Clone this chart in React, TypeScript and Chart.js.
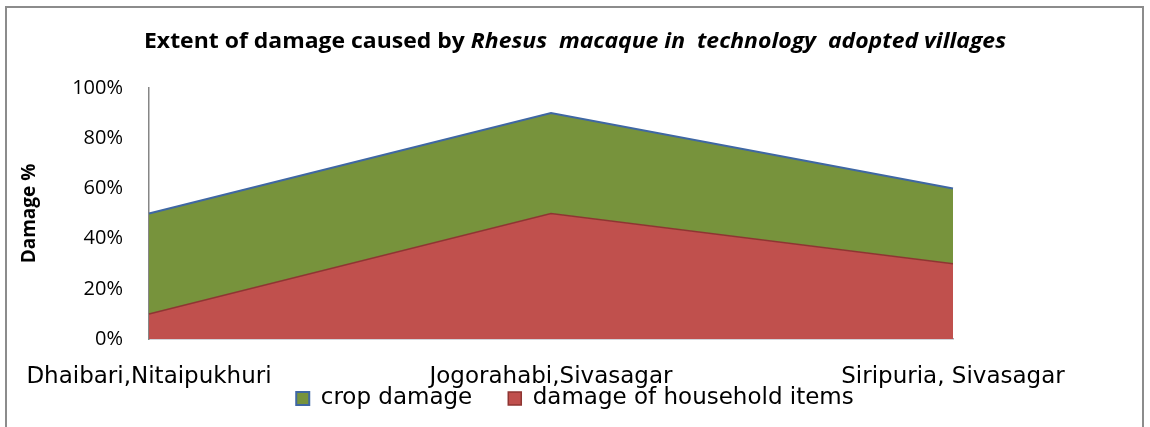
import React, { useEffect, useRef } from "react";
import { Chart, registerables } from "chart.js";

Chart.register(...registerables);

const villages = ["Dhaibari,Nitaipukhuri", "Jogorahabi,Sivasagar", "Siripuria, Sivasagar"];
const householdDamage = [10, 50, 30];
const cropDamage = [40, 40, 30];
const yTicks = [0, 20, 40, 60, 80, 100];
const seriesNames = ["damage of household items", "crop damage"];
const titlePlain = "Extent of damage caused by ";
const titleItalic = "Rhesus  macaque in  technology  adopted villages";
const yAxisTitle = "Damage %";

const frameAndTitle = {
  id: "frameAndTitle",
  afterLayout(chart: any) {
    // lift the legend so it sits tight under the category labels
    const lg = chart.legend;
    if (lg) {
      lg.top -= 44;
    }
  },
  beforeDraw(chart: any) {
    const ctx = chart.ctx;
    ctx.save();
    ctx.fillStyle = "#ffffff";
    ctx.fillRect(0, 0, chart.width, chart.height);
    ctx.strokeStyle = "#8c8c8c";
    ctx.lineWidth = 2;
    ctx.strokeRect(6, 7, 1137, 450);
    ctx.restore();
  },
  afterDraw(chart: any) {
    const ctx = chart.ctx;
    ctx.save();
    const f1 = 'bold 22px "Open Sans"';
    const f2 = 'italic bold 22px "Open Sans"';
    ctx.font = f1;
    const w1 = ctx.measureText(titlePlain).width;
    ctx.font = f2;
    const w2 = ctx.measureText(titleItalic).width;
    const target = 862;
    const sx = target / (w1 + w2);
    ctx.translate(chart.width / 2 - target / 2, 48);
    ctx.scale(sx, 1);
    ctx.textBaseline = "alphabetic";
    ctx.textAlign = "left";
    ctx.fillStyle = "#000000";
    ctx.font = f1;
    ctx.fillText(titlePlain, 0, 0);
    ctx.font = f2;
    ctx.fillText(titleItalic, w1, 0);
    ctx.restore();
  },
};

export default function App() {
  const ref = useRef<HTMLCanvasElement | null>(null);

  useEffect(() => {
    if (!ref.current) return;
    const labelFont = { family: '"DejaVu Sans"', size: 23 };
    const chart = new Chart(ref.current, {
      type: "line",
      data: {
        labels: villages,
        datasets: [
          {
            label: seriesNames[0],
            data: householdDamage,
            backgroundColor: "#c0504d",
            borderColor: "#8e3532",
            borderWidth: 1.5,
            fill: "origin",
            pointRadius: 0,
            tension: 0,
          },
          {
            label: seriesNames[1],
            data: cropDamage,
            backgroundColor: "#77933c",
            borderColor: "#3f67a3",
            borderWidth: 2,
            fill: "-1",
            pointRadius: 0,
            tension: 0,
          },
        ],
      },
      options: {
        responsive: false,
        animation: false,
        layout: { padding: { top: 88, left: 0, right: 0, bottom: 0 } },
        plugins: {
          title: { display: false },
          tooltip: { enabled: false },
          legend: {
            display: true,
            position: "bottom",
            reverse: true,
            maxHeight: 32,
            labels: {
              font: labelFont,
              color: "#000000",
              boxWidth: 13,
              boxHeight: 13,
              padding: 36,
            },
          },
        },
        scales: {
          x: {
            offset: false,
            grid: { display: false, drawTicks: false },
            border: { display: true, color: "#a3a8b4", width: 1.5 },
            ticks: {
              font: labelFont,
              color: "#000000",
              padding: 24,
              autoSkip: false,
              maxRotation: 0,
            },
            afterFit(s: any) {
              s.height = 56;
            },
          },
          y: {
            stacked: true,
            min: 0,
            max: 100,
            grid: { display: false, drawTicks: false },
            border: { display: true, color: "#868686", width: 1.5 },
            afterBuildTicks(s: any) {
              s.ticks = yTicks.map((v) => ({ value: v }));
            },
            ticks: {
              font: { family: '"Open Sans"', size: 20 },
              color: "#000000",
              padding: 26,
              callback: (v: any) => v + "%",
            },
            title: {
              display: true,
              text: yAxisTitle,
              color: "#000000",
              font: { family: '"Open Sans"', size: 19, weight: "bold" },
              padding: { top: 18.5, bottom: 0 },
            },
            afterFit(s: any) {
              s.width = 149;
            },
          },
          yRight: {
            type: "linear",
            position: "right",
            display: true,
            grid: { display: false, drawTicks: false },
            border: { display: false },
            ticks: { display: false },
            afterFit(s: any) {
              s.width = 197;
            },
          },
        },
      },
      plugins: [frameAndTitle],
    } as any);
    return () => chart.destroy();
  }, []);

  return (
    <div style={{ position: "absolute", left: 0, top: 0, width: 1150, height: 427 }}>
      <canvas ref={ref} width={1150} height={427} style={{ display: "block" }} />
    </div>
  );
}
